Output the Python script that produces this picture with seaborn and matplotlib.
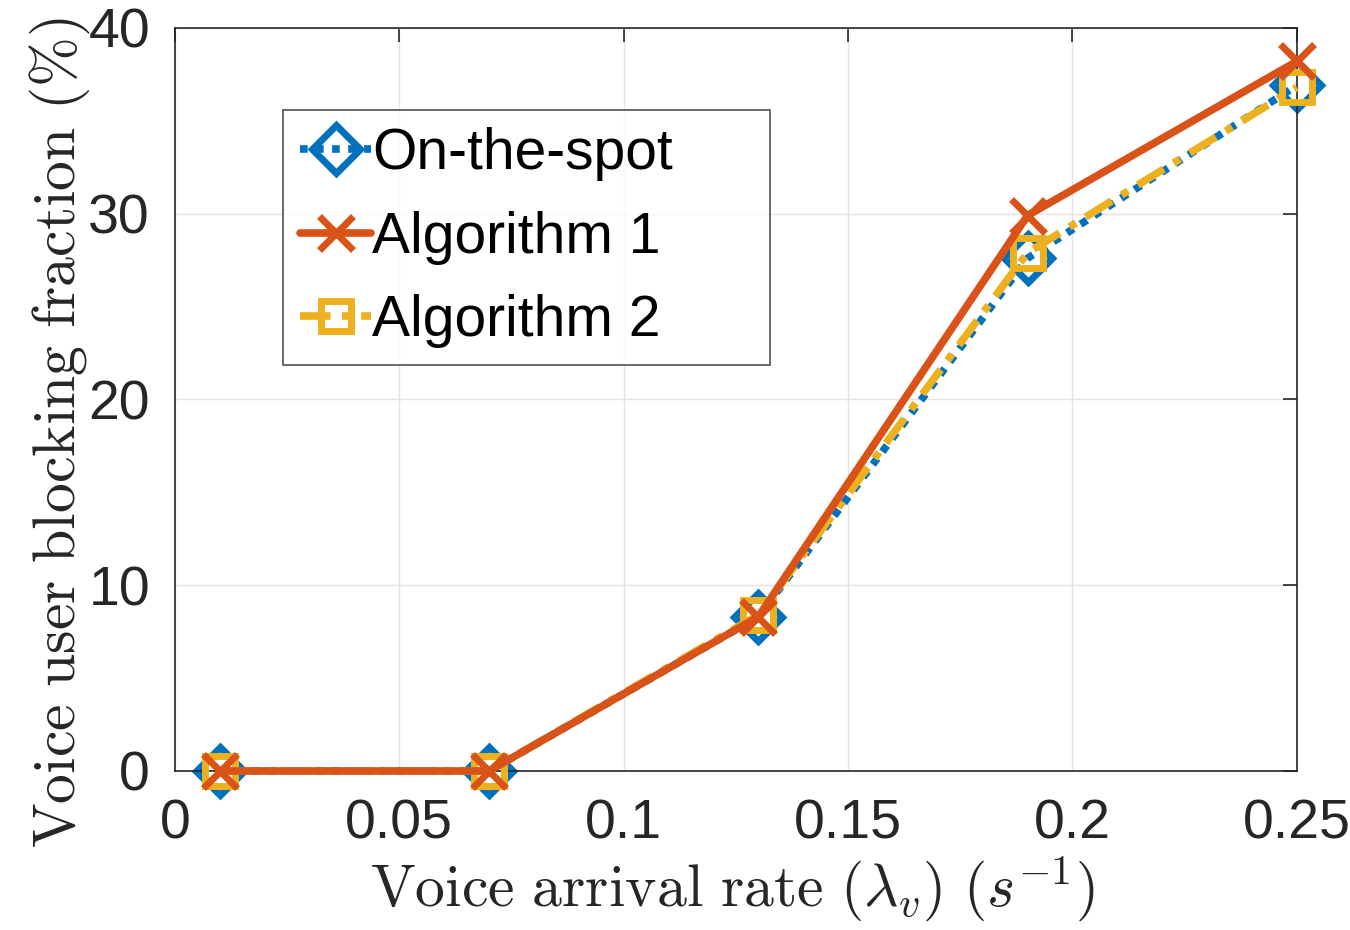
import pandas as pd
import seaborn as sns
import matplotlib.pyplot as plt

# dados
taxa = [0.01, 0.07, 0.13, 0.19, 0.25]
on_the_spot = [0.0, 0.0, 8.3, 27.6, 36.9]
algoritmo1 = [0.0, 0.0, 8.3, 29.9, 38.2]
algoritmo2 = [0.0, 0.0, 8.4, 27.9, 36.8]

x_ticks = [0, 0.05, 0.1, 0.15, 0.2, 0.25]
x_labels = ['0', '0.05', '0.1', '0.15', '0.2', '0.25']
y_ticks = [0, 10, 20, 30, 40]
y_labels = ['0', '10', '20', '30', '40']

series = ['On-the-spot', 'Algorithm 1', 'Algorithm 2']
valores = [on_the_spot, algoritmo1, algoritmo2]
cores = ['#0072BD', '#D95319', '#EDB120']
estilos = [(0, (1, 1.1)), '-', (0, (4, 1.5, 1, 1.5))]
marcadores = ['D', 'x', 's']
tam_marcador = [24, 24, 21]
ordem = [2, 4, 3]  # laranja por cima

sns.set_style('white')
plt.rcParams['font.family'] = ['Liberation Sans', 'DejaVu Sans']
plt.rcParams['mathtext.fontset'] = 'cm'

fig = plt.figure(figsize=(13.5, 9.3), dpi=100)
ax = fig.add_axes([0.1296, 0.171, 0.831, 0.799])

for nome, vals, cor, ls, mk, ms, z in zip(series, valores, cores, estilos, marcadores, tam_marcador, ordem):
    df = pd.DataFrame({'taxa': taxa, 'bloqueio': vals})
    sns.lineplot(
        data=df,
        x='taxa',
        y='bloqueio',
        color=cor,
        linestyle=ls,
        linewidth=5.5,
        marker=mk,
        markersize=ms,
        markerfacecolor='none',
        markeredgecolor=cor,
        markeredgewidth=5,
        label=nome,
        clip_on=False,
        zorder=z,
        ax=ax,
    )

ax.set_xlim(0, 0.25)
ax.set_ylim(0, 40)
ax.set_xticks(x_ticks)
ax.set_xticklabels(x_labels)
ax.set_yticks(y_ticks)
ax.set_yticklabels(y_labels)
ax.tick_params(direction='in', length=10, width=1.2, labelsize=40, colors='#262626',
               top=True, right=True)
ax.tick_params(axis='x', pad=20)
ax.tick_params(axis='y', pad=18)
ax.grid(True, color='#e3e3e3', linewidth=1)
for sp in ax.spines.values():
    sp.set_visible(True)
    sp.set_color('#262626')
    sp.set_linewidth(1.2)

ax.set_xlabel(r'$\mathrm{Voice\ arrival\ rate}\ (\lambda_v)\ (s^{-1})$', fontsize=43)
ax.set_ylabel(r'$\mathrm{Voice\ user\ blocking\ fraction}\ (\%)$', fontsize=43)
ax.xaxis.set_label_coords(0.497, -0.112)
ax.yaxis.set_label_coords(-0.074, 0.455)

leg = ax.legend(loc='upper left', mode='expand',
                bbox_to_anchor=(283 / 1350, 1 - 358 / 930, 487 / 1350, 248 / 930),
                bbox_transform=fig.transFigure, fontsize=41, frameon=True,
                fancybox=False, edgecolor='#262626', handlelength=1.25,
                handletextpad=0.02, borderpad=0.3, labelspacing=0.52, borderaxespad=0)
leg.get_frame().set_linewidth(1.2)
leg.set_zorder(10)
for t in leg.get_texts():
    t.set_color('black')

plt.savefig('out.png', dpi=100)
